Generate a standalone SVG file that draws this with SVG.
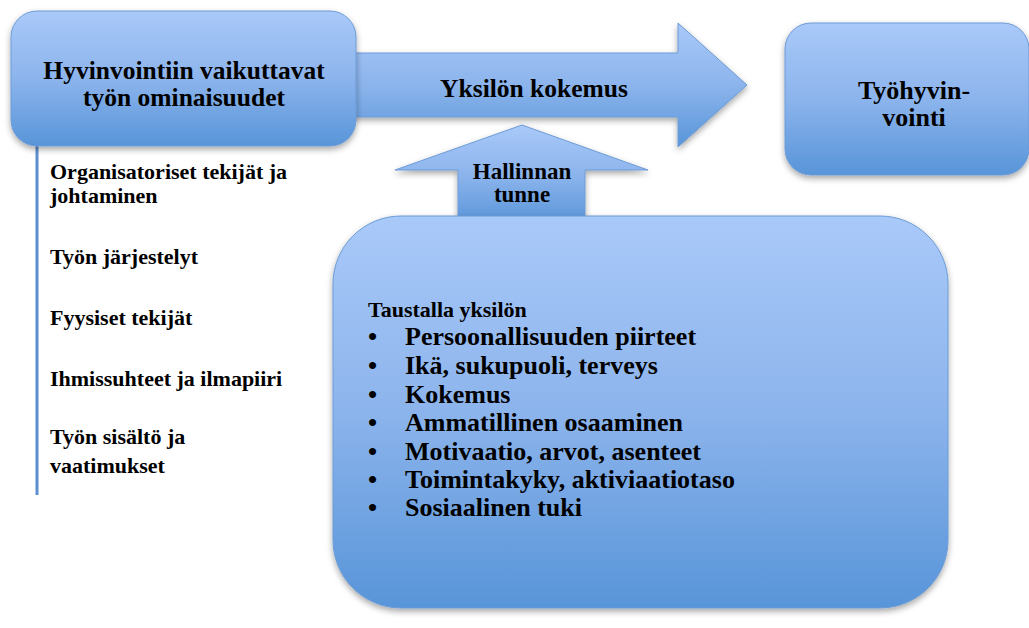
<svg xmlns="http://www.w3.org/2000/svg" width="1029" height="628" viewBox="0 0 1029 628" font-family="'Liberation Serif', 'Times New Roman', serif">
<defs>
<linearGradient id="g" x1="0" y1="0" x2="0" y2="1">
<stop offset="0" stop-color="#a9c9f9"/>
<stop offset="0.5" stop-color="#8cb4ec"/>
<stop offset="1" stop-color="#5895d9"/>
</linearGradient>
<filter id="sh" x="-10%" y="-10%" width="120%" height="130%">
<feDropShadow dx="0" dy="3" stdDeviation="3" flood-color="#000" flood-opacity="0.35"/>
</filter>
</defs>
<style>
.s{fill:url(#g);stroke:#6c9bd6;stroke-width:1;filter:url(#sh)}
text{font-family:"Liberation Serif","Times New Roman",serif;font-weight:bold;fill:#000}
.c{text-anchor:middle}
.h{font-size:25.5px}
.w{font-size:26px}
.t{font-size:23px}
.l{font-size:22px}
.b{font-size:26px}
.bt{font-size:22px}
</style>
<rect width="1029" height="628" fill="#fff"/>
<g id="connectors">
<path id="arrow-main" class="s" d="M340,53 L678,53 L678,23 L747,85 L678,147 L678,117 L340,117 Z"/>
<path id="arrow-up" class="s" d="M522,125 L648,170 L585,170 L585,225 L458,225 L458,170 L395,170 Z"/>
<line x1="37" y1="145" x2="37" y2="495" stroke="#5d8fd0" stroke-width="3"/>
</g>
<g id="node-work">
<rect class="s" x="11" y="11" width="345" height="135" rx="26"/>
<text class="h c" x="184" y="79">Hyvinvointiin vaikuttavat</text>
<text class="h c" x="184" y="106">työn ominaisuudet</text>
</g>
<g id="node-wellbeing">
<rect class="s" x="785" y="23" width="244" height="152" rx="26"/>
<text class="w c" x="914" y="99">Työhyvin-</text>
<text class="w c" x="914" y="126">vointi</text>
</g>
<g id="label-arrow">
<text class="h c" x="534" y="97">Yksilön kokemus</text>
<text class="t c" x="522" y="179">Hallinnan</text>
<text class="t c" x="522" y="202">tunne</text>
</g>
<g id="node-factors">
<text class="l" x="50" y="179">Organisatoriset tekijät ja</text>
<text class="l" x="50" y="203">johtaminen</text>
<text class="l" x="50" y="264">Työn järjestelyt</text>
<text class="l" x="50" y="325">Fyysiset tekijät</text>
<text class="l" x="50" y="386">Ihmissuhteet ja ilmapiiri</text>
<text class="l" x="50" y="444">Työn sisältö ja</text>
<text class="l" x="50" y="473">vaatimukset</text>
</g>
<g id="node-background">
<rect class="s" x="333" y="216" width="615" height="392" rx="68"/>
<text class="bt" x="368" y="317">Taustalla yksilön</text>
<text class="b" x="368" y="345">•</text><text class="b" x="405" y="345">Persoonallisuuden piirteet</text>
<text class="b" x="368" y="374">•</text><text class="b" x="405" y="374">Ikä, sukupuoli, terveys</text>
<text class="b" x="368" y="403">•</text><text class="b" x="405" y="403">Kokemus</text>
<text class="b" x="368" y="431">•</text><text class="b" x="405" y="431">Ammatillinen osaaminen</text>
<text class="b" x="368" y="460">•</text><text class="b" x="405" y="460">Motivaatio, arvot, asenteet</text>
<text class="b" x="368" y="488">•</text><text class="b" x="405" y="488">Toimintakyky, aktiviaatiotaso</text>
<text class="b" x="368" y="516">•</text><text class="b" x="405" y="516">Sosiaalinen tuki</text>
</g>
</svg>
